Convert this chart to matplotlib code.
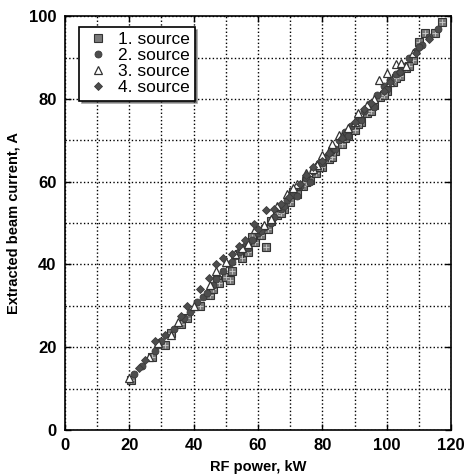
import numpy as np
import matplotlib.pyplot as plt
from matplotlib.ticker import MultipleLocator

plt.rcParams['font.family'] = ['Liberation Sans', 'DejaVu Sans']

# Source data (RF power kW, extracted current A)
sq_P = [20.5, 27, 31, 33, 36, 38, 42, 45, 46, 47.4, 48, 50, 51.2, 52, 55, 57, 59, 61, 62.6, 63,
        66, 68, 70, 72, 74, 76, 78, 80, 82, 84, 86, 88, 90, 92, 94, 96, 98, 100, 102, 104,
        106, 108, 110, 112, 115, 117,
        54, 58, 64, 67, 71, 75, 79, 83, 87, 91, 95, 99, 103, 107]
sq_I = [12.0, 17.5, 20.5, 23.5, 25.5, 27.0, 30.0, 32.5, 34.0, 36.2, 35.5, 37.0, 36.2, 38.5, 41.5, 43.0, 45.5, 47.0, 44.2, 48.5,
        52.0, 53.5, 55.0, 57.0, 59.0, 60.5, 62.0, 63.5, 65.5, 67.5, 69.0, 71.0, 72.5, 74.5, 76.5, 78.5, 80.5, 82.0, 84.0, 85.5,
        87.5, 89.5, 93.7, 95.9, 96.0, 98.5,
        42.5, 46.5, 50.5, 52.5, 57.5, 60.0, 63.5, 66.0, 70.5, 74.0, 77.0, 81.0, 85.0, 88.0]

ci_P = [21.5, 24, 28, 29, 30, 34, 37, 39, 41, 43, 44, 47, 49, 51, 53, 54, 56, 58, 60, 62,
        65, 67, 69, 71, 73, 75, 77, 79, 81, 83, 85, 87, 89, 91, 93, 95, 97, 99, 101, 103,
        105, 107, 109, 111, 113, 116,
        46, 52, 57, 61, 64, 68, 72, 76, 80, 84, 88, 92, 96, 100, 104, 110]
ci_I = [13.5, 15.5, 19.0, 20.5, 21.5, 24.5, 27.0, 28.5, 31.0, 32.0, 33.0, 36.5, 38.5, 40.0, 42.0, 43.0, 44.5, 46.0, 47.5, 49.0,
        51.5, 53.5, 55.5, 57.0, 59.0, 61.0, 62.5, 64.5, 66.0, 68.0, 70.0, 72.0, 73.5, 75.5, 77.0, 79.0, 81.0, 83.0, 84.5, 86.0,
        88.0, 90.0, 91.5, 93.0, 95.0, 97.0,
        35.0, 40.5, 44.0, 48.0, 50.0, 54.0, 56.5, 60.0, 64.5, 68.0, 71.0, 75.0, 78.0, 82.5, 86.5, 92.5]

tr_P = [20, 26, 29, 33, 35, 40, 45, 47, 50, 53, 57, 59, 62, 66, 69, 72, 75, 78.4, 80, 83,
        85, 88, 91, 94, 97.7, 100.2, 103, 104.5, 108,
        55, 64, 71, 77, 82, 86, 90, 96, 101, 106]
tr_I = [12.5, 17.5, 21.0, 23.0, 26.0, 30.0, 35.0, 38.5, 40.5, 42.5, 45.0, 48.5, 49.5, 54.0, 57.0, 59.5, 62.0, 64.0, 66.5, 69.0,
        71.3, 73.0, 76.5, 78.5, 84.5, 86.2, 88.5, 88.6, 91.0,
        44.0, 51.0, 58.5, 63.0, 67.5, 71.0, 74.5, 80.0, 84.0, 88.0]

di_P = [23, 25, 28, 31, 36, 38, 42, 44.7, 47, 49, 52, 56, 58.9, 62.6, 65, 69.5, 73, 77, 82, 86,
        90, 95, 99, 104, 109, 113,
        54, 60, 67, 75, 80, 93, 101]
di_I = [15.0, 17.0, 21.5, 23.0, 27.5, 30.0, 34.0, 36.7, 40.0, 41.5, 42.5, 46.0, 49.8, 53.1, 53.5, 56.3, 59.5, 63.5, 67.0, 70.5,
        74.5, 79.0, 82.0, 86.5, 91.0, 94.5,
        44.5, 48.5, 54.5, 61.5, 65.0, 77.5, 84.0]

fig = plt.figure(figsize=(4.7, 4.75), dpi=100)
ax = fig.add_axes([0.138, 0.095, 0.822, 0.871])

ax.plot(sq_P, sq_I, 's', ms=5.5, mfc='#7a7a7a', mec='#333333', mew=0.8, label='1. source')
ax.plot(sq_P, sq_I, '+', ms=4.5, mec='#cccccc', mew=0.6)
ax.plot(ci_P, ci_I, 'o', ms=5, mfc='#4d4d4d', mec='#3a3a3a', mew=0.6, label='2. source')
ax.plot(tr_P, tr_I, '^', ms=5.5, mfc='white', mec='#333333', mew=0.9, label='3. source')
ax.plot(di_P, di_I, 'D', ms=4.2, mfc='#4d4d4d', mec='#3a3a3a', mew=0.6, label='4. source')

ax.set_xlim(0, 120)
ax.set_ylim(0, 100)
ax.xaxis.set_major_locator(MultipleLocator(20))
ax.yaxis.set_major_locator(MultipleLocator(20))
ax.xaxis.set_minor_locator(MultipleLocator(10))
ax.yaxis.set_minor_locator(MultipleLocator(10))
ax.grid(which='both', color='black', linestyle=':', linewidth=1.0)
ax.tick_params(which='major', direction='in', length=4, width=1, top=True, right=True,
               labelsize=12, pad=6)
ax.tick_params(which='minor', length=0)
for lab in ax.get_xticklabels() + ax.get_yticklabels():
    lab.set_fontweight('bold')
for s in ax.spines.values():
    s.set_linewidth(1.2)

ax.set_xlabel('RF power, kW', fontsize=10.5, fontweight='bold', labelpad=5)
ax.set_ylabel('Extracted beam current, A', fontsize=10.5, fontweight='bold', labelpad=6)

leg = ax.legend(loc='upper left', bbox_to_anchor=(0.015, 0.995), shadow={'ox': 2, 'oy': -2, 'color': '#444444'},
                fancybox=False, fontsize=12.5, handletextpad=0.4, labelspacing=0.05, borderpad=0.3,
                handlelength=1.5, framealpha=1)
leg.get_frame().set_edgecolor('black')
leg.get_frame().set_linewidth(1.2)

fig.savefig('out.png', dpi=100)
